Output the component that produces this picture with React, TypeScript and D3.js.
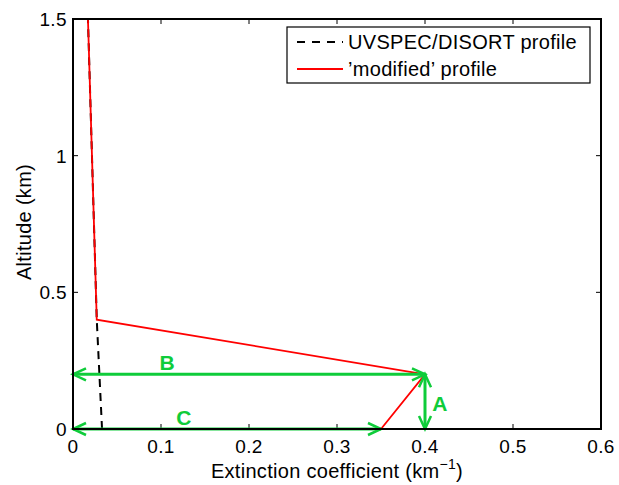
import React from "react";
import * as d3 from "d3";

const xTicks = [0, 0.1, 0.2, 0.3, 0.4, 0.5, 0.6];
const yTicks = [0, 0.5, 1, 1.5];
const yTickLabels = ["0", "0.5", "1", "1.5"];
const dashedX = [0.033, 0.027, 0.017];
const dashedY = [0, 0.4, 1.5];
const redX = [0.35, 0.4, 0.027, 0.017];
const redY = [0, 0.2, 0.4, 1.5];
const arrowLabels = ["A", "B", "C"];
// arrows: [x1, y1, x2, y2]
const arrowsData: [number, number, number, number][] = [
  [0.4, 0, 0.4, 0.2],
  [0, 0.2, 0.4, 0.2],
  [0, 0, 0.35, 0],
];
const labelPos: [number, number][] = [
  [0.417, 0.095],
  [0.107, 0.245],
  [0.126, 0.045],
];
const legendLabels = ["UVSPEC/DISORT profile", "\u2019modified\u2019 profile"];

export default function App() {
  const W = 619, H = 485;
  const L = 73, R = 601, T = 19, B = 429;
  const x = d3.scaleLinear().domain([0, 0.6]).range([L, R]);
  const y = d3.scaleLinear().domain([0, 1.5]).range([B, T]);
  const line = d3.line<[number, number]>().x(d => x(d[0])).y(d => y(d[1]));
  const dashed = line(dashedX.map((v, i) => [v, dashedY[i]]));
  const red = line(redX.map((v, i) => [v, redY[i]]));
  const green = "#0fcc3a";
  const font = "Liberation Sans, Arial, sans-serif";

  const arrowHead = (x1: number, y1: number, x2: number, y2: number) => {
    const ang = Math.atan2(y2 - y1, x2 - x1);
    const len = 13, w = 6;
    const bx = x2 - len * Math.cos(ang), by = y2 - len * Math.sin(ang);
    const px = -Math.sin(ang), py = Math.cos(ang);
    return `M${bx + w * px},${by + w * py} L${x2},${y2} L${bx - w * px},${by - w * py}`;
  };

  return (
    <svg width={W} height={H} style={{ display: "block", position: "absolute", left: 0, top: 0, background: "#fff" }} fontFamily={font}>
      <rect x={0} y={0} width={W} height={H} fill="#fff" />
      {xTicks.map((t, i) => (
        <g key={"xt" + i}>
          <line x1={x(t)} x2={x(t)} y1={B} y2={B - 5} stroke="#000" strokeWidth={1} />
          <line x1={x(t)} x2={x(t)} y1={T} y2={T + 5} stroke="#000" strokeWidth={1} />
          <text x={x(t)} y={B + 24} fontSize={19} letterSpacing={0.4} textAnchor="middle" fill="#000">{String(t)}</text>
        </g>
      ))}
      {yTicks.map((t, i) => (
        <g key={"yt" + i}>
          <line x1={L} x2={L + 5} y1={y(t)} y2={y(t)} stroke="#000" strokeWidth={1} />
          <line x1={R} x2={R - 5} y1={y(t)} y2={y(t)} stroke="#000" strokeWidth={1} />
          <text x={L - 6} y={y(t) + 7} fontSize={19} letterSpacing={0.4} textAnchor="end" fill="#000">{yTickLabels[i]}</text>
        </g>
      ))}
      <path d={dashed || ""} fill="none" stroke="#000" strokeWidth={2} strokeDasharray="8,6" />
      <path d={red || ""} fill="none" stroke="#ff0000" strokeWidth={1.8} />
      {arrowsData.map((a, i) => {
        const [x1, y1, x2, y2] = [x(a[0]), y(a[1]), x(a[2]), y(a[3])];
        return (
          <g key={"ar" + i} stroke={green} fill="none" strokeWidth={3}>
            <line x1={x1} y1={y1} x2={x2} y2={y2} />
            <path d={arrowHead(x1, y1, x2, y2)} strokeWidth={2.5} />
            <path d={arrowHead(x2, y2, x1, y1)} strokeWidth={2.5} />
          </g>
        );
      })}
      {arrowLabels.map((lab, i) => (
        <text key={"al" + i} x={x(labelPos[i][0])} y={y(labelPos[i][1]) + 8} fontSize={21} fontWeight="bold" fill={green} textAnchor="middle">{lab}</text>
      ))}
      <rect x={L} y={T} width={R - L} height={B - T} fill="none" stroke="#000" strokeWidth={2} />
      <rect x={287} y={27} width={303} height={56} fill="#fff" stroke="#000" strokeWidth={1.2} />
      <line x1={297} x2={343} y1={42} y2={42} stroke="#000" strokeWidth={2} strokeDasharray="8,7" />
      <line x1={297} x2={343} y1={69} y2={69} stroke="#ff0000" strokeWidth={1.8} />
      <text x={348} y={49} fontSize={20} letterSpacing={0.3} fill="#000">{legendLabels[0]}</text>
      <text x={348} y={76} fontSize={20} letterSpacing={0.3} fill="#000">{legendLabels[1]}</text>
      <text x={337} y={478} fontSize={20} letterSpacing={0.3} textAnchor="middle" fill="#000">
        Extinction coefficient (km<tspan dy={-9} fontSize={14}>{"\u22121"}</tspan><tspan dy={9}>)</tspan>
      </text>
      <text transform={`translate(31,${(T + B) / 2 - 2}) rotate(-90)`} fontSize={20} letterSpacing={0.3} textAnchor="middle" fill="#000">Altitude (km)</text>
    </svg>
  );
}
